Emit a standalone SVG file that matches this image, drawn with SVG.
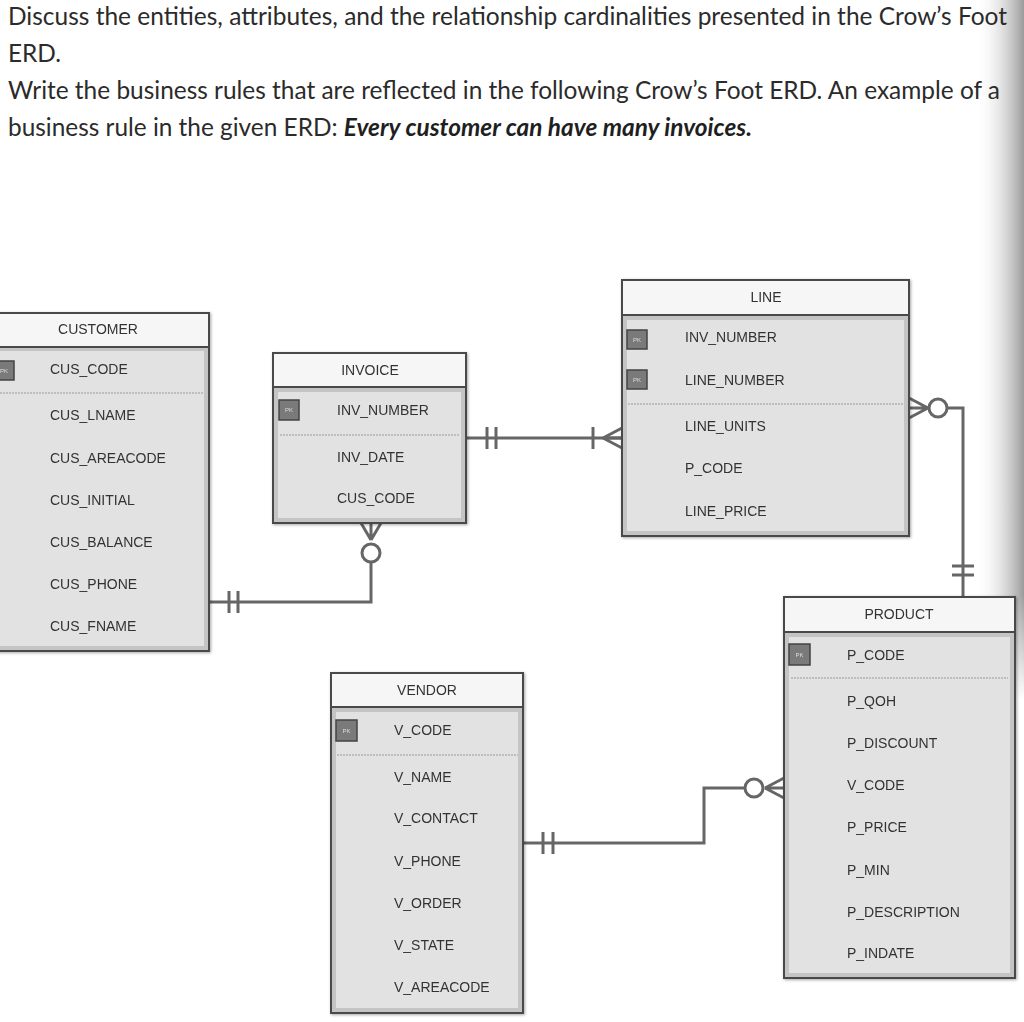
<svg xmlns="http://www.w3.org/2000/svg" width="1024" height="1022" viewBox="0 0 1024 1022">
<defs>
<style>
.q{font-family:Lato,"Open Sans",sans-serif;font-size:24.4px;fill:#2b2b2b}
.qb{font-weight:bold;font-style:italic;fill:#1f1f1f}
.t{font-family:"Liberation Sans",Arial,sans-serif;font-size:14px;fill:#333}
.h{text-anchor:middle}
.hdr{fill:#f6f6f6;stroke:#4a4a4a;stroke-width:2}
.body{fill:#e2e2e2;stroke:#4a4a4a;stroke-width:2}
.inner{fill:none;stroke:#c4c4c4;stroke-width:4}
.dash{stroke:#999;stroke-width:1;stroke-dasharray:2 1}
.pk{fill:#7a7a7a;stroke:#444;stroke-width:1.5}
.pkt{font-family:"Liberation Sans",Arial,sans-serif;font-size:6px;fill:#ddd;text-anchor:middle}
.c{fill:none;stroke:#666;stroke-width:3}
.ci{fill:#fff;stroke:#666;stroke-width:3}
</style>
<linearGradient id="edge" x1="0" y1="0" x2="1" y2="0">
<stop offset="0" stop-color="#fff" stop-opacity="0"/>
<stop offset="1" stop-color="#9a9a9a" stop-opacity="1"/>
</linearGradient>
<linearGradient id="fadev" x1="0" y1="0" x2="0" y2="1">
<stop offset="0" stop-color="#fff"/>
<stop offset="0.85" stop-color="#fff"/>
<stop offset="1" stop-color="#000"/>
</linearGradient>
<mask id="m"><rect x="960" y="0" width="64" height="700" fill="url(#fadev)"/></mask>
<filter id="sh" x="-5%" y="-5%" width="115%" height="115%"><feDropShadow dx="1" dy="1" stdDeviation="1.5" flood-color="#000" flood-opacity="0.35"/></filter>
</defs>
<rect width="1024" height="1022" fill="#fff"/>
<rect x="975" y="0" width="49" height="700" fill="url(#edge)" mask="url(#m)"/>

<g id="question">
<text class="q" x="8" y="25" textLength="999" lengthAdjust="spacingAndGlyphs">Discuss the entities, attributes, and the relationship cardinalities presented in the Crow’s Foot</text>
<text class="q" x="8" y="62">ERD.</text>
<text class="q" x="8" y="99" textLength="992" lengthAdjust="spacingAndGlyphs">Write the business rules that are reflected in the following Crow’s Foot ERD. An example of a</text>
<text class="q" x="8" y="136">business rule in the given ERD: <tspan class="qb">Every customer can have many invoices.</tspan></text>
</g>

<g id="connectors">
<!-- CUSTOMER - INVOICE -->
<path class="c" d="M209 602 H371 V563"/>
<path class="c" d="M229 591 V613 M238 591 V613"/>
<path class="c" d="M371 540 L361 523 M371 540 L371 523 M371 540 L381 523"/>
<circle class="ci" cx="371" cy="553" r="9"/>
<!-- INVOICE - LINE -->
<path class="c" d="M466 438 H622"/>
<path class="c" d="M487 427 V449 M496 427 V449"/>
<path class="c" d="M593 427 V449"/>
<path class="c" d="M603 438 L622 428 M603 438 L622 438 M603 438 L622 448"/>
<!-- LINE - PRODUCT -->
<path class="c" d="M948 408 H963 V597"/>
<path class="c" d="M952 566 H974 M952 575 H974"/>
<path class="c" d="M928 408 L909 398 M928 408 L909 408 M928 408 L909 418"/>
<circle class="ci" cx="938" cy="408" r="9"/>
<!-- VENDOR - PRODUCT -->
<path class="c" d="M523 843 H704 V788 H745"/>
<path class="c" d="M543 832 V854 M553 832 V854"/>
<path class="c" d="M765 788 L784 778 M765 788 L784 788 M765 788 L784 798"/>
<circle class="ci" cx="754" cy="788" r="9"/>
</g>

<g id="customer" filter="url(#sh)">
<rect class="body" x="-10" y="346" width="219" height="305"/>
<rect class="inner" x="-8" y="349" width="214" height="299"/>
<rect class="hdr" x="-10" y="313" width="219" height="34"/>
<text class="t h" x="98" y="334">CUSTOMER</text>
<rect class="pk" x="-6" y="361" width="20" height="19"/>
<text class="pkt" x="4" y="373">PK</text>
<line class="dash" x1="0" y1="393" x2="203" y2="393"/>
<text class="t" x="50" y="374">CUS_CODE</text>
<text class="t" x="50" y="420">CUS_LNAME</text>
<text class="t" x="50" y="463">CUS_AREACODE</text>
<text class="t" x="50" y="505">CUS_INITIAL</text>
<text class="t" x="50" y="547">CUS_BALANCE</text>
<text class="t" x="50" y="589">CUS_PHONE</text>
<text class="t" x="50" y="631">CUS_FNAME</text>
</g>

<g id="invoice" filter="url(#sh)">
<rect class="body" x="273" y="387" width="193" height="136"/>
<rect class="inner" x="276" y="390" width="187" height="130"/>
<rect class="hdr" x="273" y="353" width="193" height="34"/>
<text class="t h" x="370" y="375">INVOICE</text>
<rect class="pk" x="279" y="400" width="20" height="20"/>
<text class="pkt" x="289" y="412">PK</text>
<line class="dash" x1="280" y1="435" x2="460" y2="435"/>
<text class="t" x="337" y="415">INV_NUMBER</text>
<text class="t" x="337" y="462">INV_DATE</text>
<text class="t" x="337" y="503">CUS_CODE</text>
</g>

<g id="line" filter="url(#sh)">
<rect class="body" x="622" y="315" width="287" height="221"/>
<rect class="inner" x="625" y="318" width="281" height="215"/>
<rect class="hdr" x="622" y="280" width="287" height="35"/>
<text class="t h" x="766" y="302">LINE</text>
<rect class="pk" x="627" y="330" width="20" height="19"/>
<text class="pkt" x="637" y="342">PK</text>
<rect class="pk" x="627" y="370" width="20" height="19"/>
<text class="pkt" x="637" y="382">PK</text>
<line class="dash" x1="628" y1="404" x2="904" y2="404"/>
<text class="t" x="685" y="342">INV_NUMBER</text>
<text class="t" x="685" y="385">LINE_NUMBER</text>
<text class="t" x="685" y="431">LINE_UNITS</text>
<text class="t" x="685" y="473">P_CODE</text>
<text class="t" x="685" y="516">LINE_PRICE</text>
</g>

<g id="vendor" filter="url(#sh)">
<rect class="body" x="331" y="707" width="192" height="306"/>
<rect class="inner" x="334" y="710" width="186" height="300"/>
<rect class="hdr" x="331" y="673" width="192" height="34"/>
<text class="t h" x="427" y="695">VENDOR</text>
<rect class="pk" x="336" y="720" width="21" height="21"/>
<text class="pkt" x="346.5" y="733">PK</text>
<line class="dash" x1="337" y1="755" x2="518" y2="755"/>
<text class="t" x="394" y="735">V_CODE</text>
<text class="t" x="394" y="782">V_NAME</text>
<text class="t" x="394" y="823">V_CONTACT</text>
<text class="t" x="394" y="866">V_PHONE</text>
<text class="t" x="394" y="908">V_ORDER</text>
<text class="t" x="394" y="950">V_STATE</text>
<text class="t" x="394" y="992">V_AREACODE</text>
</g>

<g id="product" filter="url(#sh)">
<rect class="body" x="784" y="632" width="231" height="346"/>
<rect class="inner" x="787" y="635" width="225" height="340"/>
<rect class="hdr" x="784" y="597" width="231" height="35"/>
<text class="t h" x="899" y="619">PRODUCT</text>
<rect class="pk" x="789" y="644" width="21" height="21"/>
<text class="pkt" x="799.5" y="657">PK</text>
<line class="dash" x1="791" y1="678" x2="1008" y2="678"/>
<text class="t" x="847" y="660">P_CODE</text>
<text class="t" x="847" y="706">P_QOH</text>
<text class="t" x="847" y="748">P_DISCOUNT</text>
<text class="t" x="847" y="790">V_CODE</text>
<text class="t" x="847" y="832">P_PRICE</text>
<text class="t" x="847" y="875">P_MIN</text>
<text class="t" x="847" y="917">P_DESCRIPTION</text>
<text class="t" x="847" y="958">P_INDATE</text>
</g>
</svg>
